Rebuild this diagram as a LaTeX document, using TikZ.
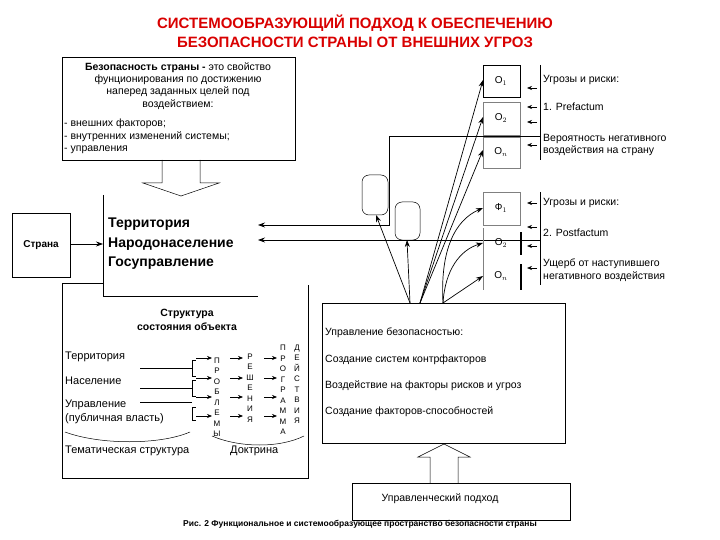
\documentclass[tikz,border=0pt]{standalone}
\usepackage{fontspec}
\setmainfont{Liberation Sans}
\usetikzlibrary{arrows.meta}
\begin{document}
\begin{tikzpicture}[x=1pt,y=-1pt,
  txt/.style={font=\fontsize{10.5}{12.5}\selectfont,anchor=west,inner sep=0},
  box/.style={draw,line width=0.7pt},
  arr/.style={-{Stealth[length=7pt,width=5pt]},line width=0.7pt},
  sarr/.style={-{Stealth[length=5pt,width=4pt]},line width=0.6pt},
  let/.style={font=\fontsize{8}{10.5}\selectfont,align=center,inner sep=0}]
\useasboundingbox (0,0) rectangle (720,540);
% title
\node[font=\bfseries\fontsize{15}{19}\selectfont,text=red!85!black,align=center] (title) at (355,31) {СИСТЕМООБРАЗУЮЩИЙ ПОДХОД К ОБЕСПЕЧЕНИЮ\\БЕЗОПАСНОСТИ СТРАНЫ ОТ ВНЕШНИХ УГРОЗ};
% definition box
\draw[box] (62,57) rectangle (295,160);
\node[font=\fontsize{10.5}{12.3}\selectfont,align=center,inner sep=0] (def) at (178,86) {\textbf{Безопасность страны -} это свойство\\фунционирования по достижению\\наперед заданных целей под\\воздействием:};
\node[txt,font=\fontsize{10.5}{12.3}\selectfont,align=left,anchor=north west] (defl) at (64,119) {- внешних факторов;\\- внутренних изменений системы;\\- управления};
% hollow down arrow
\draw[line width=0.5pt] (162,160) -- (162,183) -- (143,183) -- (181,196) -- (219,183) -- (200,183) -- (200,160);
% territory box
\draw[box] (103,195) -- (103,296) -- (258,296);
\node[anchor=west,align=left,font=\bfseries\fontsize{14}{19.5}\selectfont,inner sep=0] (terr) at (108,244) {Территория\\Народонаселение\\Госуправление};
\draw[box] (12,213) rectangle (70,277);
\node[font=\bfseries\fontsize{10}{11}\selectfont] (strana) at (41,245) {Страна};
\coordinate (tL) at (103,244);
\draw[arr] (70,244) -- (tL);
% lines into territory box
\coordinate (pa) at (258,225); \coordinate (pb) at (258,240);
\draw[arr] (540,136) -- (389,136) -- (389,225) -- (pa);
\draw[arr] (540,240) -- (pb);
% rounded rects
\draw[line width=0.5pt,rounded corners=7pt] (362,175) rectangle (388,215);
\draw[line width=0.5pt,rounded corners=7pt] (395,202) rectangle (420,240);
\coordinate (r1) at (376,215); \coordinate (r2) at (407,240);
% O boxes
\draw[box] (483,65) rectangle (520,97);
\node (o1) at (501,81) {\fontsize{10}{11}\selectfont O$_1$};
\draw[line width=0.4pt,gray] (483,102) rectangle (520,135);
\node (o2) at (501,118) {\fontsize{10}{11}\selectfont O$_2$};
\draw[line width=0.4pt,gray] (483,137) rectangle (520,168);
\node (on) at (501,152) {\fontsize{10}{11}\selectfont O$_n$};
\draw[line width=0.4pt,gray] (483,192) rectangle (520,225);
\node (f1) at (501,208) {\fontsize{10}{11}\selectfont Ф$_1$};
\node (p2) at (501,243) {\fontsize{10}{11}\selectfont O$_2$};
\node (pn) at (501,276) {\fontsize{10}{11}\selectfont O$_n$};
\draw[line width=0.4pt,gray] (483,228) -- (483,290);
\draw[line width=1.4pt] (521,232) -- (521,255) (521,264) -- (521,290);
% right text columns
\draw[line width=0.5pt] (540,65) -- (540,160) (540,192) -- (540,285);
\node[txt] (u1) at (543,80) {Угрозы и риски:};
\node[txt] (u2) at (543,107) {1. Prefactum};
\node[txt,align=left] (u3) at (543,145) {Вероятность негативного\\воздействия на страну};
\node[txt] (d1) at (543,203) {Угрозы и риски:};
\node[txt] (d2) at (543,233) {2. Postfactum};
\node[txt,align=left] (d3) at (543,270) {Ущерб от наступившего\\негативного воздействия};
\foreach \y in {88,107,122,145,203,227,246,268}
  \draw[sarr] (537,\y) -- (527,\y);
% management box
\draw[box] (322,303) rectangle (565,443);
\node[txt] (m1) at (325,333) {Управление безопасностью:};
\node[txt] (m2) at (325,360) {Создание систем контрфакторов};
\node[txt] (m3) at (325,386) {Воздействие на факторы рисков и угроз};
\node[txt] (m4) at (325,412) {Создание факторов-способностей};
\coordinate (ma) at (410,303); \coordinate (mb) at (420,303); \coordinate (mc) at (443,303);
\draw[arr] (ma) -- (r1);
\draw[arr] (ma) -- (r2);
\draw[arr] (mb) -- (483,80);
\draw[arr] (mb) -- (483,117);
\draw[arr] (mb) -- (483,150);
\draw[arr] (mc) .. controls (440,250) and (455,220) .. (483,208);
\draw[arr] (mc) .. controls (445,270) and (460,250) .. (483,243);
\draw[arr] (mc) -- (483,276);
% bottom box + hollow up arrow
\draw[box] (352,483) rectangle (570,520);
\node[font=\fontsize{10.5}{12}\selectfont] (up) at (440,499) {Управленческий подход};
\draw[line width=0.5pt] (430,483) -- (430,457) -- (418,457) -- (444,444) -- (470,457) -- (458,457) -- (458,483);
% caption
\node[font=\bfseries\fontsize{8.5}{9}\selectfont] (cap) at (360,524) {Рис. 2 Функциональное и системообразующее пространство безопасности страны};
% structure box
\draw[box] (62,283) -- (62,478) -- (308,478) -- (308,285);
\draw[line width=0.5pt] (62,283) -- (103,283);
\node[font=\bfseries\fontsize{10.5}{14}\selectfont,align=center] (st) at (187,320) {Структура\\состояния объекта};
\node[txt,font=\fontsize{11}{12.5}\selectfont] (s1) at (65,357) {Территория};
\node[txt,font=\fontsize{11}{12.5}\selectfont] (s2) at (65,381) {Население};
\node[txt,font=\fontsize{11}{13.5}\selectfont,align=left] (s3) at (65,412) {Управление\\(публичная власть)};
\draw[line width=0.5pt] (140,368) -- (192,368) (192,360) -- (192,376);
\draw[line width=0.5pt] (140,388) -- (192,388) (192,380) -- (192,396);
\draw[line width=0.5pt] (140,402) -- (192,402) (192,407) -- (192,420);
\foreach \y in {358,378,397,416}{
  \draw[sarr] (196,\y) -- (212,\y);
  \draw[sarr] (230,\y) -- (243,\y);
  \draw[sarr] (264,\y) -- (277,\y);}
\draw[line width=0.5pt] (192,360) -- (196,360) (192,376) -- (196,376) (192,380)--(196,380) (192,396)--(196,396) (192,407)--(196,407) (192,420)--(196,420);
\node[let] (c1) at (217,397) {П\\Р\\О\\Б\\Л\\Е\\М\\Ы};
\node[let] (c2) at (250,388) {Р\\Е\\Ш\\Е\\Н\\И\\Я};
\node[let] (c3) at (283,390) {П\\Р\\О\\Г\\Р\\А\\М\\М\\А};
\node[let] (c4) at (297,384) {Д\\Е\\Й\\С\\Т\\В\\И\\Я};
\draw[line width=0.5pt] (65,432) .. controls (100,445) and (160,445) .. (190,432);
\draw[line width=0.5pt] (212,436) .. controls (240,448) and (280,448) .. (304,436);
\node[txt,font=\fontsize{11}{12}\selectfont] (tem) at (65,451) {Тематическая структура};
\node[txt,font=\fontsize{11}{12}\selectfont] (doc) at (230,451) {Доктрина};
\end{tikzpicture}
\end{document}
